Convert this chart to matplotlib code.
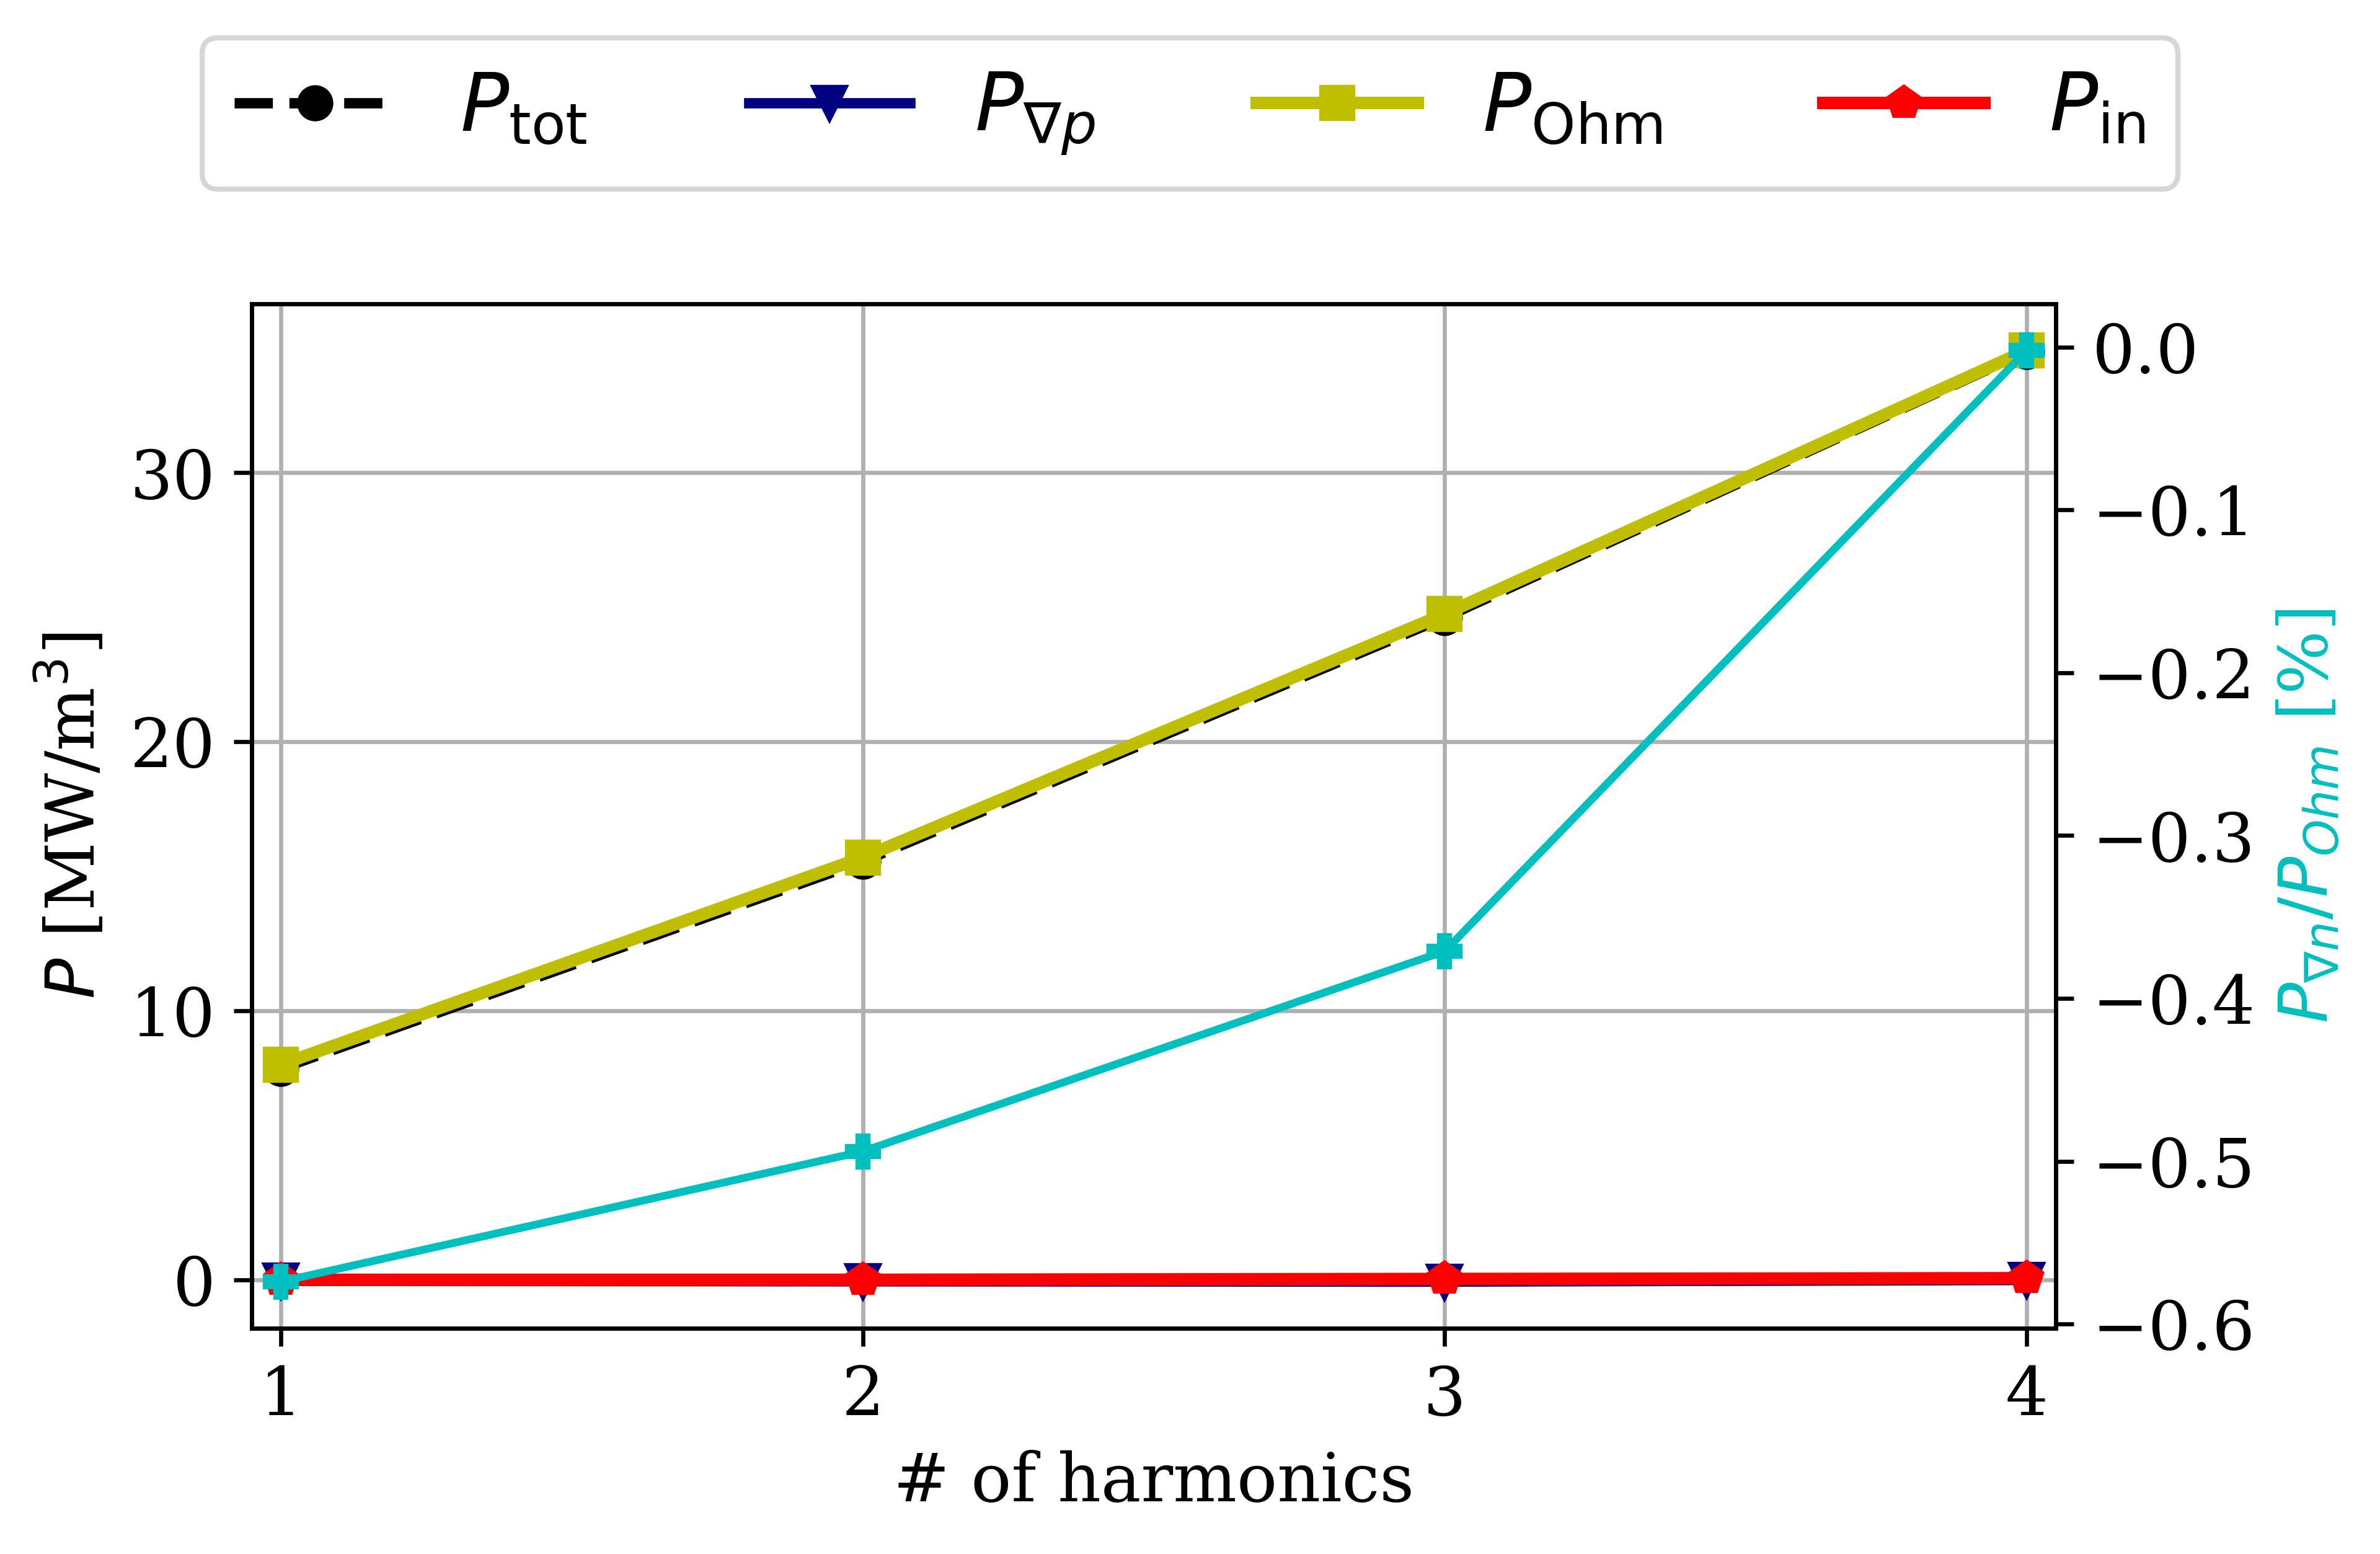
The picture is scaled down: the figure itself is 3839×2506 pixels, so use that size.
import numpy as np
import matplotlib
matplotlib.use('Agg')
import matplotlib.pyplot as plt

plt.rcParams['font.family'] = 'serif'
plt.rcParams['font.size'] = 13

# data
harmonics = [1, 2, 3, 4]
P_tot = [7.85, 15.55, 24.62, 34.5]
P_gradp = [-0.04, -0.06, -0.07, -0.01]
P_ohm = [8.0, 15.7, 24.75, 34.55]
P_in = [0.0, 0.0, 0.03, 0.06]
ratio = [-0.574, -0.494, -0.371, -0.002]

fig = plt.figure(figsize=(3839 / 600, 2506 / 600), dpi=600)
ax = fig.add_axes([0.1058, 0.1453, 0.758, 0.6592])

l1, = ax.plot(harmonics, P_tot, 'k--o', lw=2, label=r'$P_{\rm tot}$')
l2, = ax.plot(harmonics, P_gradp, 'v-', color='navy', lw=2, label=r'$P_{\nabla p}$')
l3, = ax.plot(harmonics, P_ohm, 's-', color='y', lw=2.4, label=r'$P_{\rm Ohm}$')
l4, = ax.plot(harmonics, P_in, 'p-', color='r', lw=2.4, label=r'$P_{\rm in}$')
ax.grid(True)
ax.set_xticks(harmonics)
ax.set_xlim(0.95, 4.05)
ax.set_xlabel('# of harmonics')
ax.set_ylabel(r'$P$ [MW/m$^3$]')

ax2 = ax.twinx()
ax2.plot(harmonics, ratio, 'P-', color='c', lw=1.5)
ax2.set_ylabel(r'$P_{\nabla n}/P_{Ohm}$ [%]', color='c')

fig.legend(handles=[l1, l2, l3, l4], loc='upper center', bbox_to_anchor=(0.5, 0.9756),
           borderaxespad=0, ncol=4, fontsize='large')

fig.savefig('out.png', dpi=600)
